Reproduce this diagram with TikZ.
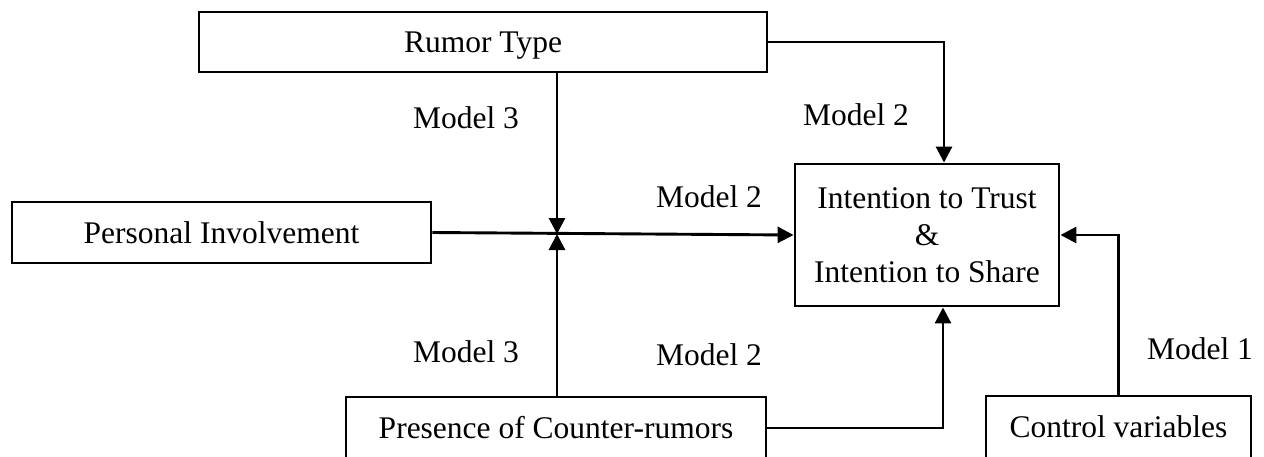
\documentclass[tikz,border=0pt]{standalone}
\usepackage{fontspec}
\setmainfont{Liberation Serif}
\usetikzlibrary{arrows.meta}
\begin{document}
\begin{tikzpicture}[x=1pt,y=-1pt,
  box/.style={draw, line width=2.9pt, inner sep=0pt, align=center, font=\fontsize{31.5}{37}\selectfont},
  lbl/.style={inner sep=0pt, font=\fontsize{31.5}{37}\selectfont},
  conn/.style={line width=2.9pt},
  arr/.style={conn, -{Triangle[length=16pt,width=16pt]}}]
\useasboundingbox (0,0) rectangle (1264,456);
\node[box, minimum width=568pt, minimum height=60pt, text height=24pt, text depth=4pt] (RT) at (483,42) {Rumor Type};
\node[box, minimum width=419pt, minimum height=61pt] (PI) at (221.5,232.5) {Personal Involvement};
\node[box, minimum width=264pt, minimum height=142pt] (IN) at (927,235) {Intention to Trust\\\&\\Intention to Share};
\node[box, minimum width=420pt, minimum height=62pt] (PC) at (556,428) {Presence of Counter-rumors};
\node[box, minimum width=265pt, minimum height=62pt] (CV) at (1118.5,427) {Control variables};
\coordinate (J) at (557,234);
\node[lbl] (m3a) at (466,118) {Model 3};
\node[lbl] (m2a) at (856,115) {Model 2};
\node[lbl] (m2b) at (709,197) {Model 2};
\node[lbl] (m3b) at (466,352) {Model 3};
\node[lbl] (m2c) at (709,355) {Model 2};
\node[lbl] (m1) at (1200,349) {Model 1};
\draw[arr] (PI.east) -- (IN.west);
\draw[arr] (RT.south -| J) -- (J);
\draw[arr] (PC.north -| J) -- (J);
\draw[arr] (RT.east) -| ([xshift=17pt]IN.north);
\draw[arr] (PC.east) -| ([xshift=16pt]IN.south);
\draw[arr] (CV.north) |- (IN.east);
\end{tikzpicture}
\end{document}
